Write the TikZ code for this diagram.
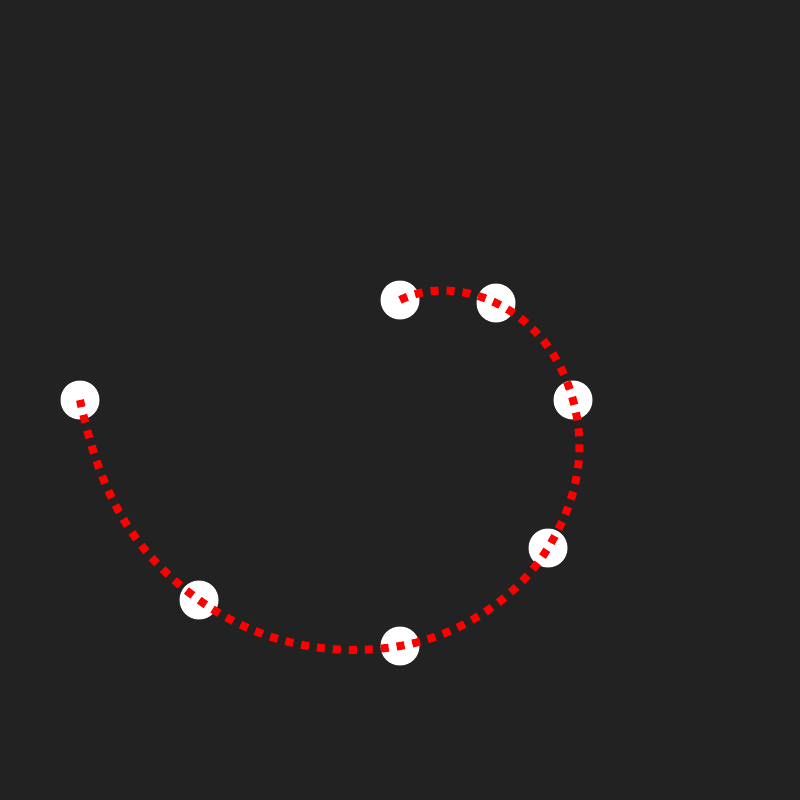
\documentclass[tikz,border=0pt]{standalone}
\begin{document}
\begin{tikzpicture}[x=1pt,y=-1pt,
  dot/.style={circle,fill=white,minimum size=39pt,inner sep=0pt,draw=none},
  trail/.style={draw=red,line width=8pt,dash pattern=on 8pt off 8pt}]
\fill[fill={rgb,255:red,34;green,34;blue,34}] (0,0) rectangle (800,800);
\useasboundingbox (0,0) rectangle (800,800);
\node[dot] (p1) at (400,300) {};
\node[dot] (p2) at (496,303) {};
\node[dot] (p3) at (573,400) {};
\node[dot] (p4) at (548,548) {};
\node[dot] (p5) at (400,646) {};
\node[dot] (p6) at (199,600) {};
\node[dot] (p7) at (80,400) {};
\draw[trail] (p1.center)
  .. controls +(29.7,-14.5) and +(-29.7,-14.4) .. (p2.center)
  .. controls +(39.6,19.2) and +(-11.6,-42.5) .. (p3.center)
  .. controls +(14.5,53.1) and +(28.6,-46.75) .. (p4.center)
  .. controls +(-31.2,51) and +(59.2,-10) .. (p5.center)
  .. controls +(-71,12) and +(58.3,42.3) .. (p6.center)
  .. controls +(-71.3,-51.7) and +(18.5,86.2) .. (p7.center);
\end{tikzpicture}
\end{document}
